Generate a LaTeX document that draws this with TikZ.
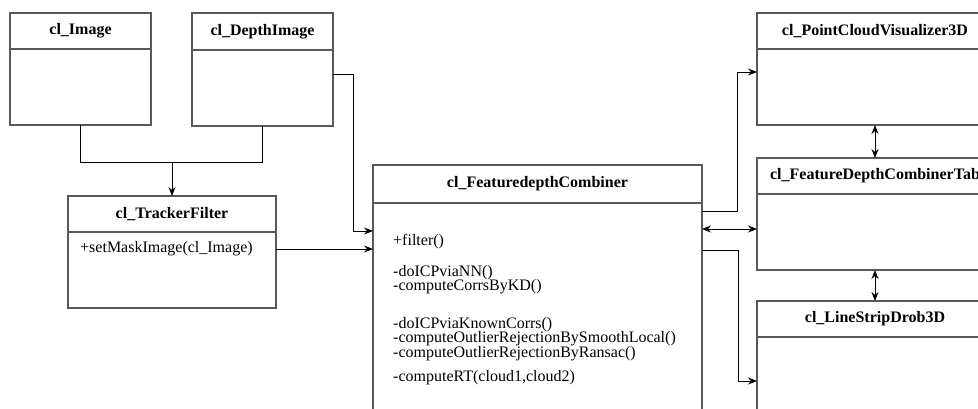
\documentclass[tikz,border=0pt]{standalone}
\usepackage{fontspec}
\setmainfont{Liberation Serif}
\usetikzlibrary{arrows.meta}
\begin{document}
\begin{tikzpicture}[x=1pt,y=-1pt,
  umlbox/.style={draw=black!65,line width=1.3pt,fill=white,anchor=north west,inner sep=0pt,outer sep=0pt},
  divline/.style={draw=black!65,line width=1.3pt},
  title/.style={font=\fontsize{16}{18}\selectfont\bfseries,inner sep=0pt,anchor=center},
  meth/.style={font=\fontsize{16}{18}\selectfont,inner sep=0pt,anchor=west},
  methgroup/.style={font=\fontsize{16}{14.6}\selectfont,inner sep=0pt,anchor=north west,align=left},
  conn/.style={draw=black,line width=0.9pt},
  arr/.style={conn,-{Stealth[length=9pt,width=7pt,inset=3pt]}},
  darr/.style={conn,{Stealth[length=9pt,width=7pt,inset=3pt]}-{Stealth[length=9pt,width=7pt,inset=3pt]}}
]
\clip (0,0) rectangle (978,408);
\fill[white] (0,0) rectangle (978,408);

% boxes
\node[umlbox,minimum width=141pt,minimum height=112pt] (img) at (10,13) {};
\node[umlbox,minimum width=141pt,minimum height=113pt] (dimg) at (192,13) {};
\node[umlbox,minimum width=208pt,minimum height=112pt] (tf) at (68,196) {};
\node[umlbox,minimum width=329pt,minimum height=300pt] (fc) at (373,165) {};
\node[umlbox,minimum width=236pt,minimum height=112pt] (pcv) at (757,13) {};
\node[umlbox,minimum width=236pt,minimum height=112pt] (fdc) at (757,158) {};
\node[umlbox,minimum width=236pt,minimum height=150pt] (ls) at (757,301) {};

% dividers
\draw[divline] (10,49) -- (151,49);
\draw[divline] (192,50) -- (333,50);
\draw[divline] (68,232) -- (276,232);
\draw[divline] (373,203) -- (702,203);
\draw[divline] (757,49) -- (993,49);
\draw[divline] (757,194) -- (993,194);
\draw[divline] (757,337) -- (993,337);

% titles
\node[title] (timg) at (80.5,31) {cl\_Image};
\node[title] (tdimg) at (262.5,32) {cl\_DepthImage};
\node[title] (ttf) at (172,214) {cl\_TrackerFilter};
\node[title] (tfc) at (537.5,184) {cl\_FeaturedepthCombiner};
\node[title] (tpcv) at (875,31) {cl\_PointCloudVisualizer3D};
\node[title] (tfdc) at (875,176) {cl\_FeatureDepthCombinerTab};
\node[title] (tls) at (875,319) {cl\_LineStripDrob3D};

% methods
\node[meth] (tfm) at (80,249) {+setMaskImage(cl\_Image)};
\node[meth] (m1) at (393,242) {+filter()};
\node[methgroup] (m2) at (393,264.7) {-doICPviaNN()\\-computeCorrsByKD()};
\node[methgroup] (m4) at (393,316.7) {-doICPviaKnownCorrs()\\-computeOutlierRejectionBySmoothLocal()\\-computeOutlierRejectionByRansac()};
\node[meth] (m7) at (393,378) {-computeRT(cloud1,cloud2)};

% helper coordinates
\coordinate (mj) at (172,162);
\coordinate (ya) at (0,74);
\coordinate (yb) at (0,231);
\coordinate (yc) at (0,249);
\coordinate (yd) at (0,211);
\coordinate (ye) at (0,72);
\coordinate (yf) at (0,229);
\coordinate (yg) at (0,250);
\coordinate (yh) at (0,381);
\coordinate (xa) at (353,0);
\coordinate (xb) at (737,0);
\coordinate (xc) at (738,0);

% connectors
\draw[conn] (img.south) |- (mj);
\draw[conn] (dimg.south) |- (mj);
\draw[arr] (mj) -- (tf.north);
\draw[arr] (dimg.east |- ya) -- (xa |- ya) -- (xa |- yb) -- (fc.west |- yb);
\draw[arr] (tf.east |- yc) -- (fc.west |- yc);
\draw[arr] (fc.east |- yd) -- (xb |- yd) -- (xb |- ye) -- (pcv.west |- ye);
\draw[darr] (fc.east |- yf) -- (fdc.west |- yf);
\draw[arr] (fc.east |- yg) -- (xc |- yg) -- (xc |- yh) -- (ls.west |- yh);
\draw[darr] (pcv.south) -- (fdc.north);
\draw[darr] (fdc.south) -- (ls.north);
\end{tikzpicture}
\end{document}
